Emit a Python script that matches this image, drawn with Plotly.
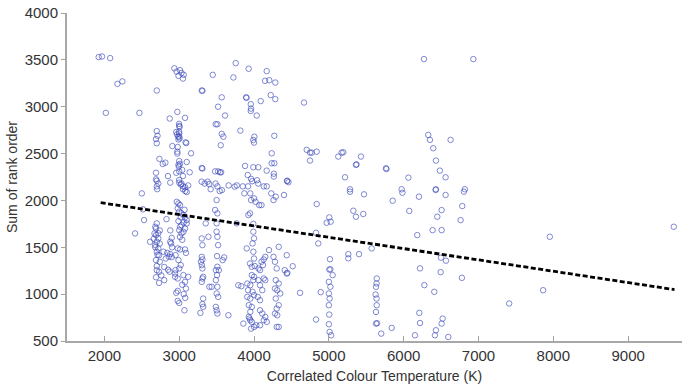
import plotly.graph_objects as go

# (CCT in K, sum of rank order), grouped by region
pts_low = [(1923,3530),(1968,3536),(2077,3519),(2174,3244),(2240,3270),(2019,2934),(2468,2934),
           (2500,2075),(2515,1905),(2530,1790),(2410,1648)]

pts_2700 = [(2700,3173),(2700,2740),(2710,2690),(2690,2655),(2700,2610),(2735,2443),(2780,2389),(2815,2403),
            (2690,2295),(2690,2225),(2700,2210),(2720,2180),(2700,2150),(2705,2120),(2700,1755),(2680,1719),
            (2690,1700),(2670,1648),(2690,1630),(2720,1595),(2700,1559),(2680,1523),(2720,1488),(2700,1452),
            (2730,1416),(2690,1363),(2740,1345),(2700,1256),(2730,1238),(2730,1120),(2610,1559),(2660,1590),
            (2740,1680),(2710,1420),(2680,1500),(2700,1300),(2760,1200),(2690,1180),(2720,1650),(2740,1540)]

pts_2800 = [(2873,2874),(2908,2580),(2880,2190),(2850,2260),(2790,1452),(2840,1440),(2878,1427),(2860,1400),
            (2900,1395),(2880,1559),(2890,1540),(2820,1380),(2850,1260),(2800,1149),(2900,1600),(2880,1680),
            (2830,1800),(2870,1240),(2800,1290),(2905,1500)]

pts_3000 = [(2935,3410),(2965,3375),(3010,3390),(2990,3330),(3030,3360),(3060,3340),(3050,3300),(2975,2945),
            (3078,2881),(2998,2817),(3000,2795),(3005,2785),(2998,2734),(3000,2715),(3000,2680),(3005,2662),
            (2960,2730),(2970,2705),(2985,2680),(2990,2650),(3085,2620),(3095,2612),(2980,2570),(2975,2520),
            (2975,2500),(3158,2503),(3000,2420),(3010,2390),(2990,2380),(2995,2360),(3100,2410),(3040,2325),
            (2960,2295),(3000,2310),(3050,2260),(3140,2300),(3000,2190),(3020,2170),(3050,2150),(3080,2140),
            (3000,2218),(3030,2180),(3050,2120),(3080,2100),(3100,2090),(3120,2160),(2967,1985),(2990,1968),
            (3011,1950),(2980,1915),(3000,1880),(3030,1862),(3056,1845),(3078,1820),(3100,1790),(3060,1765),
            (3030,1737),(3011,1719),(3000,1683),(3056,1665),(3030,1648),(3078,1700),(3100,1755),(2980,1488),
            (3011,1477),(3078,1477),(3090,1440),(2950,1416),(2990,1363),(3020,1310),(3000,1274),(2950,1256),
            (2945,1220),(2945,1185),(2980,1167),(3056,1203),(3120,1185),(3078,1131),(3090,1060),(2980,1035),
            (2960,1014),(2980,928),(3000,906),(3070,828),(3040,1100),(3060,1000),(3080,960),(3010,1610),
            (3040,1580),(2990,1780),(3020,1820),(3070,1900)]

pts_3300 = [(3301,3173),(3310,3170),(3301,2346),(3310,2340),(3300,2200),(3380,2200),(3301,1594),(3310,1523),
            (3301,1398),(3310,1370),(3290,1345),(3301,1310),(3310,1274),(3320,1185),(3310,1167),(3301,1131),
            (3320,953),(3310,893),(3320,864),(3283,800),(3354,1755),(3390,1612),(3434,1078),(3403,1078),
            (3340,2180),(3400,2175),(3420,2120)]

pts_3500 = [(3488,2813),(3510,2813),(3568,2710),(3590,2680),(3555,2589),(3519,3000),(3568,3100),(3448,3340),
            (3480,2310),(3520,2310),(3545,2300),(3560,2300),(3485,2180),(3510,2150),(3500,2004),(3480,1898),
            (3510,1862),(3500,1755),(3500,1666),(3510,1612),(3520,1523),(3505,1406),(3510,1292),(3490,1256),
            (3530,1256),(3505,1203),(3490,1149),(3510,1078),(3500,1007),(3520,971),(3490,864),(3500,828),
            (3510,793),(3580,1363),(3600,1392),(3657,775),(3540,2100),(3570,2110)]

pts_3800 = [(3755,3465),(3724,3312),(3612,2906),(3817,2745),(3660,2160),(3770,2160),(3740,2147),(3850,2150),
            (3870,2075),(3768,1755),(3790,1095),(3830,1085),(3857,686)]

pts_4000 = [(3928,3405),(3893,3100),(3900,3095),(3956,3027),(3960,2980),(3956,2955),(4089,3060),(4036,2906),
            (4004,2680),(3990,2645),(4000,2617),(3880,2368),(3990,2354),(4057,2354),(3916,2271),(3960,2230),
            (3975,2205),(4040,2215),(4055,2180),(4130,2150),(3924,1844),(3946,1862),(3991,1666),(4000,1595),
            (3980,1541),(3991,1452),(4000,1380),(3902,1488),(3946,1327),(3970,1292),(4010,1300),(4060,1274),
            (4080,1256),(4100,1345),(4120,1310),(4130,1370),(4150,1398),(4200,1470),(3910,1113),(3950,1096),
            (3990,1149),(4000,1185),(3970,1203),(4060,1149),(4080,1096),(4110,1042),(4130,1167),(4150,1149),
            (3920,1042),(3980,1025),(4000,990),(3910,971),(3950,953),(4050,971),(4080,935),(3930,882),
            (3970,864),(3950,811),(4080,828),(4110,793),(4150,757),(4130,722),(4170,704),(3930,757),
            (3940,740),(3950,722),(3970,704),(3960,632),(4000,650),(4030,668),(4080,668),(3920,2150),
            (3950,2075),(3960,2004),(4000,2022),(4020,1985),(4070,1950),(4100,1950),(4170,2150),(3990,1750)]

pts_4300 = [(4169,3380),(4147,3276),(4204,3283),(4284,3258),(4223,3124),(4284,3081),(4271,2690),(4236,2503),
            (4169,2318),(4236,2397),(4271,2397),(4265,2285),(4265,2255),(4440,2210),(4460,2195),(4230,2075),
            (4260,2004),(4290,2040),(4400,2058),(4260,1398),(4280,1345),(4303,1274),(4290,1149),(4330,1113),
            (4280,1060),(4310,1042),(4350,1007),(4290,953),(4330,882),(4303,846),(4280,793),(4310,775),
            (4330,650),(4303,650),(4410,1256),(4437,1220),(4437,1416),(4330,1505)]

pts_high = [(4668,3044),(4704,2540),(4748,2510),(4771,2510),(4837,2520),(4748,2425),(5126,2468),(5193,2514),
            (5171,2510),(5429,2468),(5362,2380),(5370,2385),(5763,2343),(5770,2335),(5216,2247),(6063,2243),
            (4445,2207),(5283,2119),(5973,2119),(6431,2119),(6818,2119),(6271,3508),(6931,3508),(6328,2699),
            (6351,2646),(6627,2646),(6395,2557),(6431,2425),(6484,2318),(6560,2247),(5283,2093),(5470,2065),
            (5853,1997),(5983,2082),(6204,2040),(6427,2111),(6560,2058),(6805,2093),(6075,1888),(6507,1897),
            (6449,1826),(6783,1940),(6761,1790),(4837,1961),(4971,1762),(5024,1773),(5006,1819),(5327,1890),
            (5362,1826),(5460,1855),(6181,1630),(6387,1683),(6507,1683),(4829,1655),(4858,1541),(5572,1488),
            (5260,1427),(5260,1382),(5403,1427),(5015,1373),(5006,1262),(5020,1265),(5050,1203),(5000,1131),
            (5020,1078),(5000,1007),(5010,953),(5000,882),(5005,782),(5000,679),(5010,597),(5030,561),
            (4517,1298),(4445,1227),(4615,1014),(4891,1021),(4829,729),(5640,1167),(5638,1114),(5630,1078),
            (5625,996),(5638,953),(5640,882),(5630,810),(5630,686),(5645,690),(5700,579),(5840,640),
            (6151,561),(6218,1275),(6276,1096),(6209,800),(6218,692),(6409,1025),(6498,1389),(6565,1357),
            (6494,1235),(6521,739),(6507,686),(6431,615),(6418,561),(6596,543),(6778,1174),(7953,1612),
            (9610,1719),(7864,1042),(7410,900)]

# dashed regression line end points
trend_cct = [1950, 9620]
trend_rank = [1976, 1048]

groups = [pts_low, pts_2700, pts_2800, pts_3000, pts_3300, pts_3500, pts_3800, pts_4000, pts_4300, pts_high]
cct = [p[0] for g in groups for p in g]
rank_sum = [p[1] for g in groups for p in g]

fig = go.Figure()
fig.add_trace(go.Scatter(
    x=cct, y=rank_sum, mode="markers",
    marker=dict(symbol="circle-open", size=5.5, color="rgba(55,70,185,0.7)",
                line=dict(width=0.9, color="rgba(55,70,185,0.7)")),
    showlegend=False, hoverinfo="x+y"))
fig.add_trace(go.Scatter(
    x=trend_cct, y=trend_rank, mode="lines",
    line=dict(color="black", width=2.8, dash="5px,2.5px"),
    showlegend=False))

tick_font = dict(family="Liberation Sans, Arial, sans-serif", size=15, color="#333333")
title_font = dict(family="Liberation Sans, Arial, sans-serif", size=14, color="#333333")
fig.update_layout(
    width=682, height=385,
    margin=dict(l=67, r=0, t=13, b=44),
    plot_bgcolor="white", paper_bgcolor="white",
    font=title_font,
    xaxis=dict(range=[1500, 9720], tickmode="array",
               tickvals=[2000, 3000, 4000, 5000, 6000, 7000, 8000, 9000],
               ticks="inside", ticklen=5, tickcolor="#a0a0a0", tickwidth=1,
               showline=True, linecolor="#a8a8a8", linewidth=2,
               showgrid=False, zeroline=False, tickfont=tick_font,
               ticklabeloverflow="allow",
               title=dict(text="Correlated Colour Temperature (K)", font=title_font, standoff=8),
               automargin=False),
    yaxis=dict(range=[500, 4000], tickmode="array",
               tickvals=[500, 1000, 1500, 2000, 2500, 3000, 3500, 4000],
               ticks="outside", ticklen=4, tickcolor="#a0a0a0", tickwidth=1,
               showline=True, linecolor="#a8a8a8", linewidth=2,
               showgrid=False, zeroline=False, tickfont=tick_font,
               ticklabeloverflow="allow",
               title=dict(text="Sum of rank order", font=title_font, standoff=4),
               automargin=False),
)
# remove the browser's default 8px body margin so the figure fills the window
fig.write_html("out.html", config={"displayModeBar": False},
               post_script="document.body.style.margin='0';")
